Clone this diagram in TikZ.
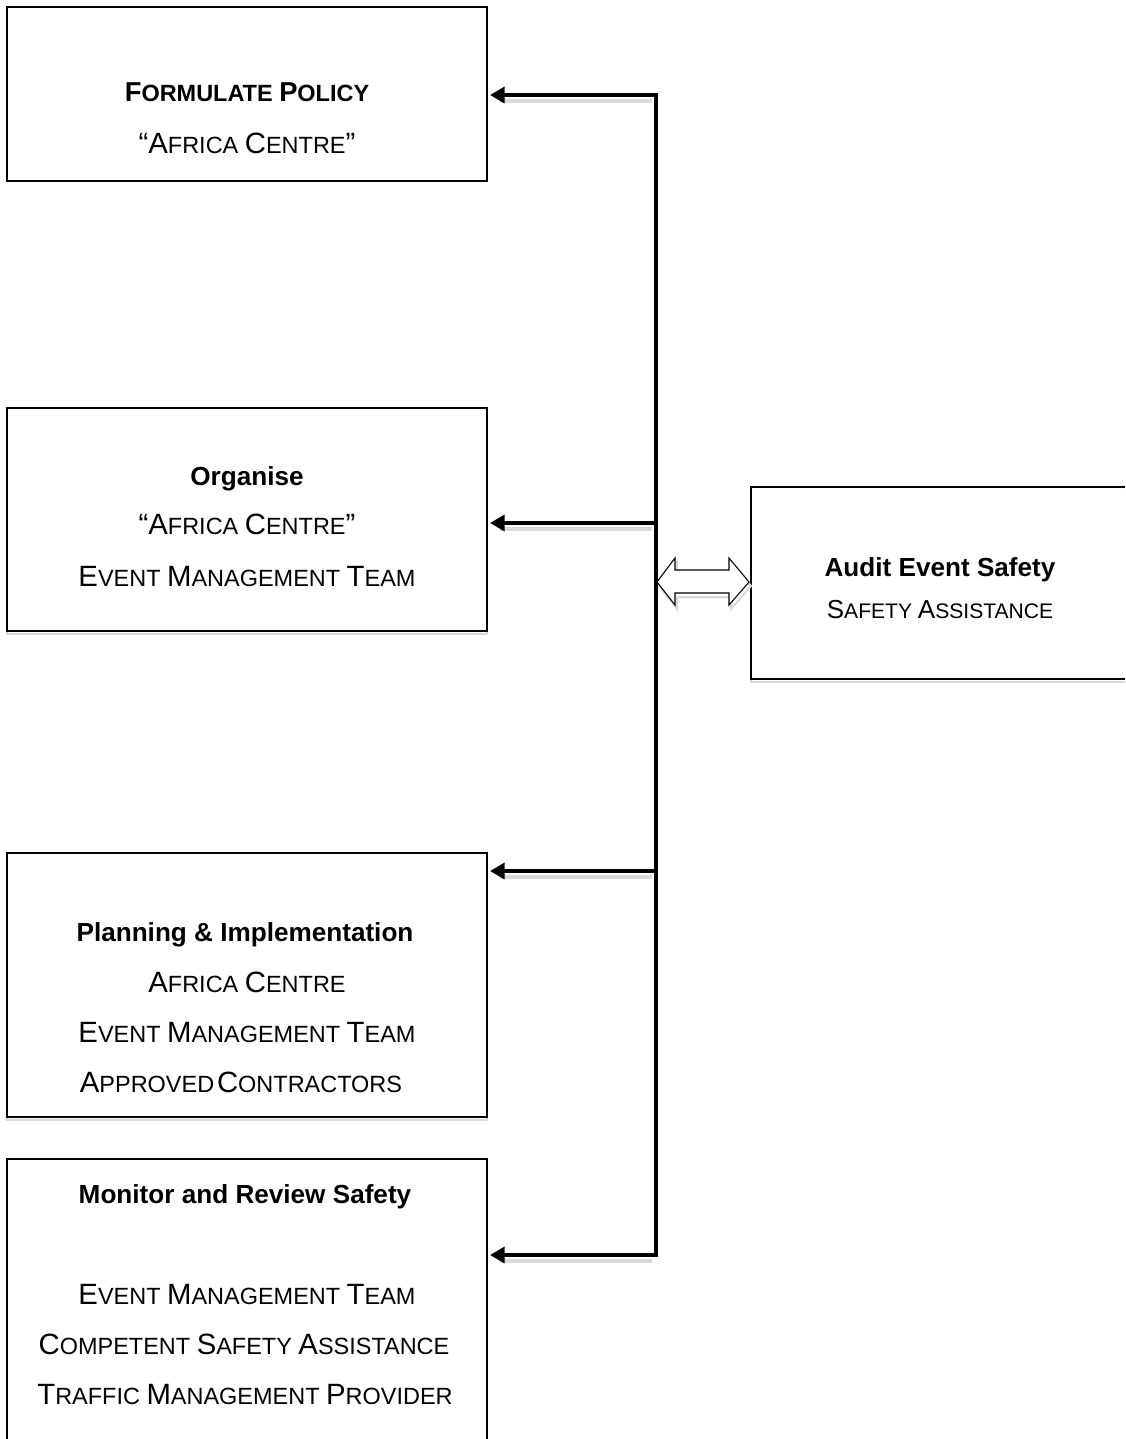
\documentclass[tikz,border=0pt]{standalone}
\usepackage{fontspec}
\setmainfont{Liberation Sans}
\usetikzlibrary{arrows.meta,calc}
\newcommand\sm[1]{{\fontsize{17.6}{20}\selectfont #1}}
\newcommand\smr[1]{{\fontsize{15.8}{18}\selectfont #1}}
\newcommand\smb[1]{{\fontsize{17.6}{20}\selectfont #1}}
\begin{document}
\begin{tikzpicture}[x=0.75pt,y=-0.75pt,
  box/.style={draw=black,line width=1.5pt,fill=white,inner sep=0pt},
  shadowbox/.style={draw=black!15,line width=1.5pt,inner sep=0pt},
  txt/.style={anchor=base,inner sep=0pt,font=\fontsize{22}{26}\selectfont},
  ttl/.style={anchor=base,inner sep=0pt,font=\fontsize{19.6}{22}\selectfont\bfseries},
  ttlb/.style={anchor=base,inner sep=0pt,font=\fontsize{20.5}{22}\selectfont\bfseries},
  rtxt/.style={anchor=base,inner sep=0pt,font=\fontsize{19.5}{21}\selectfont},
  conn/.style={line width=2.7pt,line join=miter},
  tip/.style={},
  arr/.style={conn,-{Triangle[length=11pt,width=12pt]}},
  shad/.style={draw=black!15,line width=2.7pt}]
\useasboundingbox (0,0) rectangle (1125,1439);
\clip (0,0) rectangle (1125,1439);
% shadows of boxes
\draw[shadowbox] (7,411) rectangle (487,634);
\draw[shadowbox] (7,856) rectangle (487,1120);
\draw[shadowbox] (7,1162) rectangle (487,1453);
\draw[shadowbox] (751,490) rectangle (1135,682);
% boxes
\node[box,minimum width=360pt,minimum height=130.5pt] (b1) at (247,94) {};
\node[box,minimum width=360pt,minimum height=167.25pt] (b2) at (247,519.5) {};
\node[box,minimum width=360pt,minimum height=198pt] (b3) at (247,985) {};
\node[box,minimum width=360pt,minimum height=218.25pt] (b4) at (247,1304.5) {};
\node[box,minimum width=288pt,minimum height=144pt] (r) at (943,583) {};
% texts
\node[ttlb] (t1a) at (247,101) {F\smb{ORMULATE }P\smb{OLICY}};
\node[txt] (t1b) at (247,153) {“A\sm{FRICA }C\sm{ENTRE}”};
\node[ttl] (t2a) at (247,485) {Organise};
\node[txt] (t2b) at (247,534) {“A\sm{FRICA }C\sm{ENTRE}”};
\node[txt] (t2c) at (247,586) {E\sm{VENT }M\sm{ANAGEMENT }T\sm{EAM}};
\node[ttl] (t3a) at (245,941) {Planning \& Implementation};
\node[txt] (t3b) at (247,992) {A\sm{FRICA }C\sm{ENTRE}};
\node[txt] (t3c) at (247,1042) {E\sm{VENT }M\sm{ANAGEMENT }T\sm{EAM}};
\node[txt] (t3d) at (241,1092) {A\sm{PPROVED\hspace{0.12em}}C\sm{ONTRACTORS}};
\node[ttl] (t4a) at (245,1203) {Monitor and Review Safety};
\node[txt] (t4b) at (247,1304) {E\sm{VENT }M\sm{ANAGEMENT }T\sm{EAM}};
\node[txt] (t4c) at (244,1354) {C\sm{OMPETENT }S\sm{AFETY }A\sm{SSISTANCE}};
\node[txt] (t4d) at (245,1404) {T\sm{RAFFIC }M\sm{ANAGEMENT }P\sm{ROVIDER}};
\node[ttl] (tra) at (940,576) {Audit Event Safety};
\node[rtxt] (trb) at (940,618) {S\smr{AFETY }A\smr{SSISTANCE}};
% junctions on the vertical line
\coordinate (j1) at (656,95);
\coordinate (j2) at (656,523);
\coordinate (j3) at (656,871);
\coordinate (j4) at (656,1255);
% connector shadows
\draw[shad] ($(j1)+(-4,6)$) -- ++(-152,0);
\draw[shad] ($(j2)+(-4,6)$) -- ++(-152,0);
\draw[shad] ($(j3)+(-4,6)$) -- ++(-152,0);
\draw[shad] ($(j4)+(-4,6)$) -- ++(-152,0);
% connectors
\draw[conn,{Triangle[length=11pt,width=12pt]}-{Triangle[length=11pt,width=12pt]}]
  ([xshift=1.5pt]j1 -| b1.east) -- (j1) -- (j4) -- ([xshift=1.5pt]j4 -| b4.east);
\draw[arr] (j2) -- ([xshift=1.5pt]j2 -| b2.east);
\draw[arr] (j3) -- ([xshift=1.5pt]j3 -| b3.east);
% hollow double arrow
\coordinate (d) at (703,582);
\draw[black!15,line width=1.5pt,shift={(2,4)}]
  (657,582) -- (675,558) -- (675,570) -- (729,570) -- (729,558) -- (749,582)
  -- (729,605) -- (729,593) -- (675,593) -- (675,605) -- cycle;
\draw[black,line width=0.8pt,fill=white]
  (657,582) -- (675,558) -- (675,570) -- (729,570) -- (729,558) -- (749,582)
  -- (729,605) -- (729,593) -- (675,593) -- (675,605) -- cycle;
\end{tikzpicture}
\end{document}
